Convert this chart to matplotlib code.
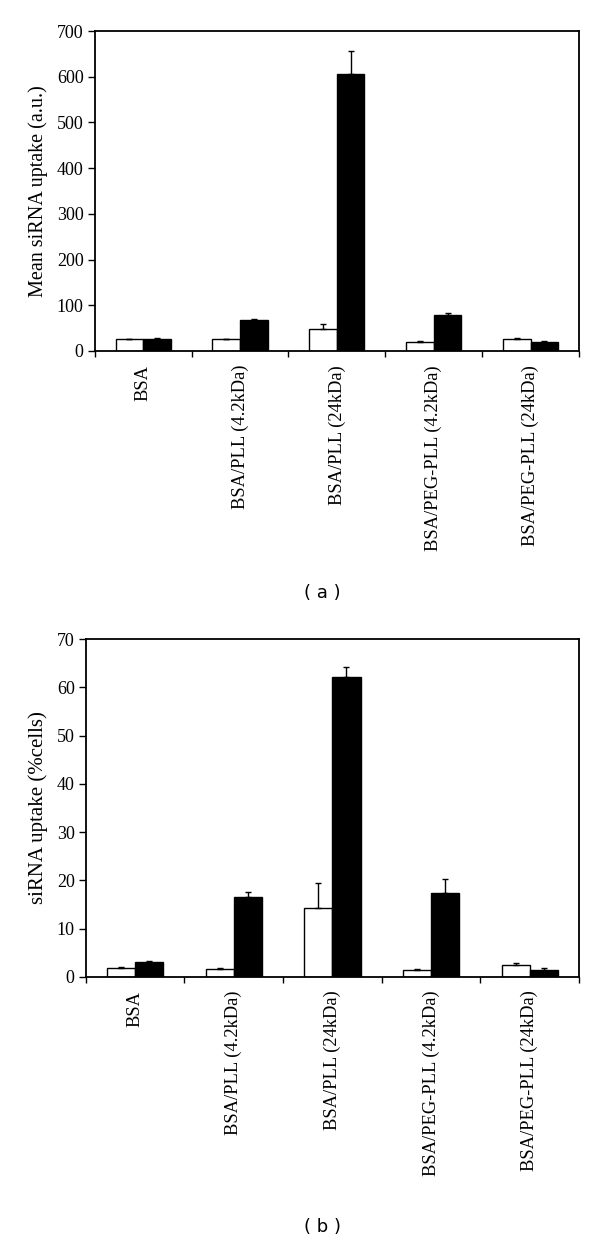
import matplotlib
matplotlib.use("Agg")
import matplotlib.pyplot as plt
import numpy as np

categories = ["BSA", "BSA/PLL (4.2kDa)", "BSA/PLL (24kDa)", "BSA/PEG-PLL (4.2kDa)", "BSA/PEG-PLL (24kDa)"]

# Panel (a): mean siRNA uptake (a.u.)
a_white = [25.5, 25.5, 49, 20, 25.5]
a_white_err = [1, 1, 9, 1, 4]
a_black = [25.5, 68, 607, 78.5, 20.5]
a_black_err = [3.5, 1, 50, 5, 1]

# Panel (b): siRNA uptake (%cells)
b_white = [1.9, 1.7, 14.3, 1.4, 2.5]
b_white_err = [0.1, 0.1, 5.2, 0.1, 0.35]
b_black = [3.0, 16.6, 62.2, 17.4, 1.45]
b_black_err = [0.3, 1.0, 2.1, 2.9, 0.4]

a_ticks = [0, 100, 200, 300, 400, 500, 600, 700]
b_ticks = [0, 10, 20, 30, 40, 50, 60, 70]

serif = ["Liberation Serif", "DejaVu Serif"]
plt.rcParams['font.family'] = serif

fig = plt.figure(figsize=(6.0, 12.42), dpi=100)

def panel(rect, white, werr, black, berr, ticks, ylabel, ylabel_size, caption, cap_y):
    ax = fig.add_axes(rect)
    n = len(categories)
    centers = np.arange(n) + 0.5
    w = 0.285
    ekw = dict(ecolor="black", elinewidth=1.0, capsize=2.5, capthick=1.0)
    ax.bar(centers - w / 2, white, width=w, color="white", edgecolor="black", linewidth=1.0,
           yerr=[np.zeros(n), werr], error_kw=ekw, zorder=2)
    ax.bar(centers + w / 2, black, width=w, color="black", edgecolor="black", linewidth=1.0,
           yerr=[np.zeros(n), berr], error_kw=ekw, zorder=2)
    ax.set_xlim(0, n)
    ax.set_ylim(ticks[0], ticks[-1])
    ax.set_yticks(ticks)
    ax.set_yticklabels([str(t) for t in ticks], fontsize=13)
    ax.set_xticks(np.arange(n + 1))
    ax.set_xticklabels([])
    ax.set_xticks(centers, minor=True)
    ax.set_xticklabels(categories, minor=True, rotation=90, fontsize=13.3, va="top", ha="center")
    ax.tick_params(axis="x", which="minor", length=0, pad=10)
    ax.tick_params(axis="x", which="major", length=4, width=1.0, direction="out")
    ax.tick_params(axis="y", length=5, width=1.0, direction="out", pad=3)
    for s in ax.spines.values():
        s.set_linewidth(1.3)
    ax.set_ylabel(ylabel, fontsize=ylabel_size, labelpad=6)
    fig.text(0.538, cap_y, caption, ha="center", va="center", fontsize=13,
             family=["DejaVu Sans"])
    return ax

ax1 = panel([0.158, 0.7174, 0.807, 0.2576], a_white, a_white_err, a_black, a_black_err,
            a_ticks, "Mean siRNA uptake (a.u.)", 14.5, "( a )", 1 - 593 / 1242)
ax2 = panel([0.143, 0.2136, 0.822, 0.2717], b_white, b_white_err, b_black, b_black_err,
            b_ticks, "siRNA uptake (%cells)", 15, "( b )", 1 - 1227 / 1242)

fig.savefig("out.png", dpi=100, facecolor="white")
